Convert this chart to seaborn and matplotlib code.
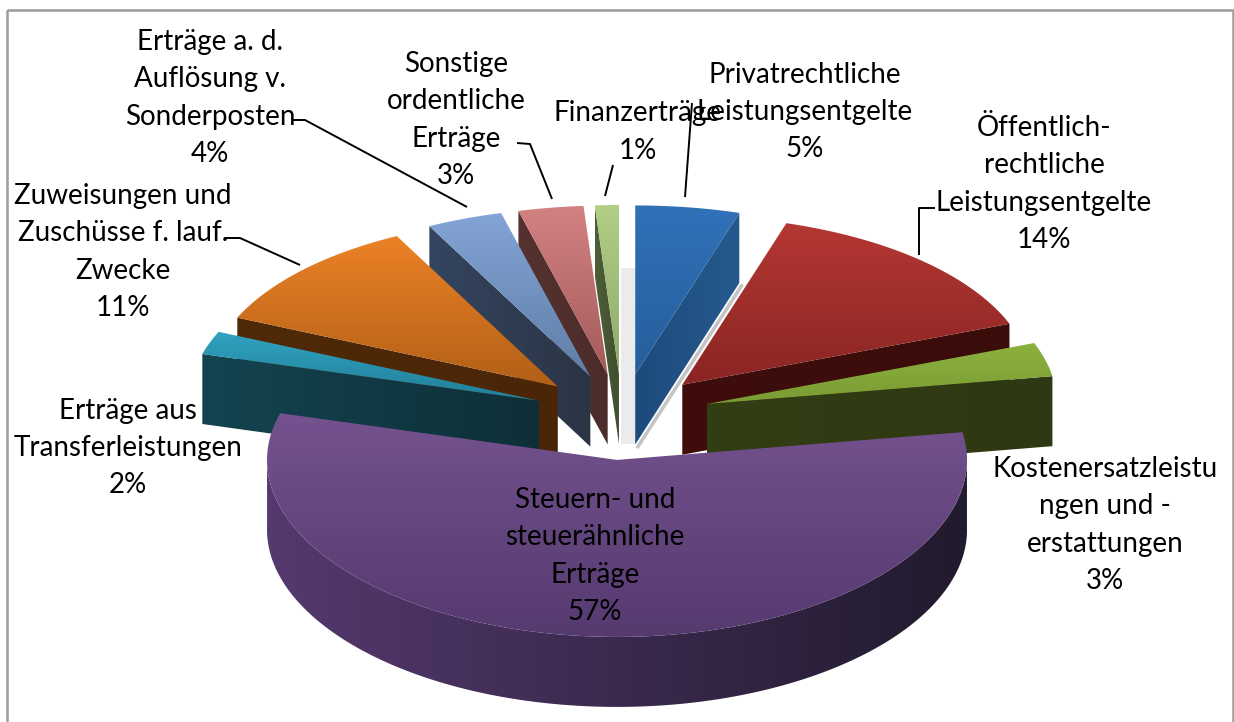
import numpy as np
import matplotlib
matplotlib.use("Agg")
import matplotlib.pyplot as plt
from matplotlib.patches import Polygon, Rectangle
import seaborn as sns

# ---------- data ----------
labels = ["Privatrechtliche\nLeistungsentgelte", "Öffentlich-\nrechtliche\nLeistungsentgelte",
          "Kostenersatzleistu\nngen und -\nerstattungen", "Steuern- und\nsteuerähnliche\nErträge",
          "Erträge aus\nTransferleistungen", "Zuweisungen und\nZuschüsse f. lauf.\nZwecke",
          "Erträge a. d.\nAuflösung v.\nSonderposten", "Sonstige\nordentliche\nErträge", "Finanzerträge"]
values = [4.8, 14.4, 3.2, 56.9, 2.2, 10.8, 3.5, 3.0, 1.1]
top_hi = ["#3071b8", "#b43733", "#8cb13e", "#74528f", "#30a2c0", "#ec8226", "#83a4d6", "#d38282", "#b1ce85"]
top_lo = ["#255f9c", "#8a2523", "#7a9c35", "#553a70", "#217f98", "#b25f17", "#5f7ea6", "#a55a5a", "#8fa96b"]
side_l = ["#1e4a7c", "#3f0e0c", "#323e14", "#54396e", "#134450", "#4f2a08", "#344560", "#55322f", "#4e5f38"]
side_r = ["#265a8e", "#3a0c0a", "#2e3812", "#221a2e", "#0e2f38", "#4a2607", "#2b3445", "#4b2c2b", "#3f4e2e"]
label_xy = [(805, 112), (1044, 184), (1105, 525), (595, 556), (128, 448), (123, 252), (210, 98), (456, 120), (638, 132)]
draw_order = [8, 7, 0, 6, 1, 5, 2, 4, 3]
leaders = [[(685, 197), (692, 103)],
           [(919, 255), (919, 208), (935, 208)],
           [(300, 265), (240, 238), (225, 238)],
           [(467, 207), (305, 120), (292, 120)],
           [(552, 199), (530, 144), (517, 143)],
           [(605, 196), (613, 165)]]

# ---------- geometry ----------
CX, CY = 622, 415
RX, RY = 350, 173
EX, EY = 88, 43
DEPTH = 70

sns.set_theme(style="white")
plt.rcParams["font.family"] = ["Lato", "DejaVu Sans"]
fig = plt.figure(figsize=(12.34, 7.22), dpi=100, facecolor="white")
ax = fig.add_axes([0, 0, 1, 1])
ax.set_axis_off()


def grad_fill(verts, c0, c1, horizontal=False, z=1):
    verts = np.asarray(verts)
    x0, y0 = verts.min(axis=0)
    x1, y1 = verts.max(axis=0)
    cmap = sns.blend_palette([c0, c1], 64, as_cmap=True)
    g = np.linspace(0, 1, 128)
    g = g[None, :] if horizontal else g[:, None]
    im = ax.imshow(g, extent=(x0, x1, y1, y0), cmap=cmap, aspect="auto", origin="upper",
                   vmin=0, vmax=1, zorder=z, interpolation="bilinear")
    patch = Polygon(verts, closed=True, transform=ax.transData, fc="none", ec="none")
    ax.add_patch(patch)
    im.set_clip_path(patch)


fractions = np.array(values) / sum(values)
edges = np.concatenate([[0], np.cumsum(fractions)]) * 2 * np.pi
percent = [f"{round(f * 100)}%" for f in fractions]


def rim(theta, ax0, ay0):
    ry = RY + 4 * (-np.cos(theta))
    return np.column_stack([ax0 + RX * np.sin(theta), ay0 - ry * np.cos(theta)])


# faint shadow column behind the slices
ax.add_patch(Rectangle((621, 268), 15, 176, fc="#ebebeb", ec="none", zorder=0.5))

down = np.array([0, DEPTH])
z = 1.0
for i in draw_order:
    a0, a1 = edges[i], edges[i + 1]
    mid = (a0 + a1) / 2
    ey = EY + 2 * (-np.cos(mid))
    apex = np.array([CX + EX * np.sin(mid), CY - ey * np.cos(mid)])
    th = np.linspace(a0, a1, 160)
    arc = rim(th, *apex)
    # cut faces, only the ones turned toward the viewer
    if np.sin(a0) < -1e-6:
        grad_fill([arc[0], apex, apex + down, arc[0] + down], side_l[i], side_r[i], horizontal=True, z=z)
        z += 0.01
    if np.sin(a1) > 1e-6:
        grad_fill([arc[-1], apex, apex + down, arc[-1] + down], side_l[i], side_r[i], horizontal=True, z=z)
        z += 0.01
    if i == 0:
        sh = np.array([apex + down, arc[-1] + down]) + 2.5
        ax.plot(sh[:, 0], sh[:, 1], color="#c4c4c4", lw=2.5, zorder=z - 0.005)
    # outer wall, front half only
    front = np.cos(th) < 0
    if front.any():
        w = arc[front]
        grad_fill(np.vstack([w, (w + down)[::-1]]), side_l[i], side_r[i], horizontal=True, z=z)
        z += 0.01
    # top
    grad_fill(np.vstack([apex, arc]), top_hi[i], top_lo[i], z=z)
    z += 0.01

for pts in leaders:
    pts = np.array(pts)
    ax.plot(pts[:, 0], pts[:, 1], color="black", lw=1.4, zorder=20, solid_capstyle="butt")

for lab, pct, (x, y) in zip(labels, percent, label_xy):
    ax.text(x, y, f"{lab}\n{pct}", ha="center", va="center", fontsize=20,
            color="black", linespacing=1.53, zorder=30, multialignment="center")

ax.add_patch(Rectangle((7, 10), 1226, 740, fc="none", ec="#9c9c9c", lw=1.8, zorder=40))
ax.set_xlim(0, 1234)
ax.set_ylim(722, 0)
fig.savefig("out.png", dpi=100, facecolor="white")
